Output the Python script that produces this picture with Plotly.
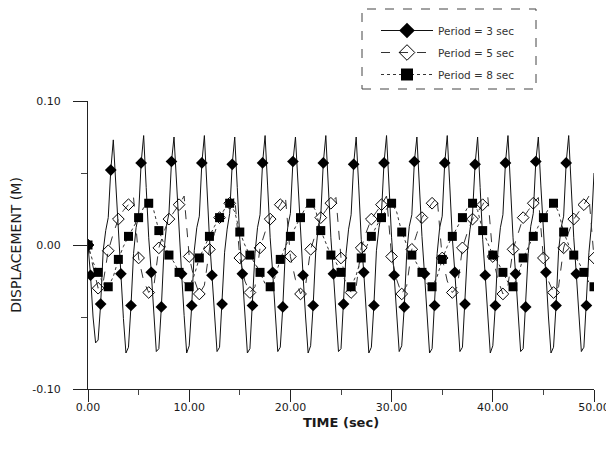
import plotly.graph_objects as go

# ---------------- data ----------------
# Period = 3 sec, sampled every 0.25 s (t = 0 ... 50)
t3 = [i * 0.25 for i in range(201)]
d3 = [
    0.000, -0.021, -0.050, -0.068, -0.066, -0.041, -0.004, 0.010, 0.019, 0.052, 0.073, 0.041,
    0.004, -0.020, -0.051, -0.075, -0.071, -0.042, -0.006, 0.012, 0.021, 0.057, 0.076, 0.040,
    0.005, -0.019, -0.050, -0.074, -0.072, -0.043, -0.005, 0.013, 0.022, 0.058, 0.075, 0.041,
    0.006, -0.020, -0.049, -0.075, -0.070, -0.042, -0.004, 0.012, 0.020, 0.057, 0.076, 0.039,
    0.005, -0.021, -0.051, -0.074, -0.071, -0.041, -0.005, 0.011, 0.022, 0.056, 0.075, 0.040,
    0.004, -0.020, -0.050, -0.075, -0.072, -0.042, -0.006, 0.012, 0.021, 0.057, 0.076, 0.041,
    0.005, -0.019, -0.051, -0.074, -0.071, -0.043, -0.004, 0.013, 0.022, 0.058, 0.075, 0.040,
    0.006, -0.021, -0.050, -0.075, -0.070, -0.042, -0.005, 0.012, 0.020, 0.057, 0.076, 0.039,
    0.005, -0.020, -0.049, -0.074, -0.072, -0.041, -0.006, 0.011, 0.021, 0.056, 0.075, 0.041,
    0.004, -0.019, -0.051, -0.075, -0.071, -0.042, -0.004, 0.012, 0.022, 0.057, 0.076, 0.040,
    0.005, -0.021, -0.050, -0.074, -0.070, -0.043, -0.005, 0.013, 0.021, 0.058, 0.075, 0.039,
    0.006, -0.020, -0.051, -0.075, -0.072, -0.042, -0.006, 0.012, 0.020, 0.057, 0.076, 0.041,
    0.005, -0.019, -0.049, -0.074, -0.071, -0.041, -0.004, 0.011, 0.022, 0.056, 0.075, 0.040,
    0.004, -0.021, -0.050, -0.075, -0.070, -0.042, -0.005, 0.012, 0.021, 0.057, 0.076, 0.039,
    0.005, -0.020, -0.051, -0.074, -0.072, -0.043, -0.006, 0.013, 0.022, 0.058, 0.075, 0.041,
    0.006, -0.019, -0.050, -0.075, -0.071, -0.042, -0.004, 0.012, 0.020, 0.057, 0.076, 0.040,
    0.005, -0.020, -0.050, -0.074, -0.071, -0.042, -0.005, 0.014, 0.050,
]

# Period = 5 sec, sampled every 0.5 s (t = 0 ... 50)
t5 = [i * 0.5 for i in range(101)]
d5 = [
    0.000, -0.016, -0.030, -0.026, -0.004, 0.008, 0.018, 0.024, 0.028, 0.033,
    -0.009, -0.025, -0.033, -0.029, -0.002, 0.009, 0.018, 0.023, 0.028, 0.034,
    -0.008, -0.024, -0.034, -0.028, -0.003, 0.008, 0.019, 0.024, 0.029, 0.033,
    -0.009, -0.025, -0.033, -0.029, -0.002, 0.009, 0.018, 0.023, 0.028, 0.034,
    -0.008, -0.024, -0.034, -0.028, -0.003, 0.008, 0.019, 0.024, 0.029, 0.033,
    -0.009, -0.025, -0.033, -0.029, -0.002, 0.009, 0.018, 0.023, 0.028, 0.034,
    -0.008, -0.024, -0.034, -0.028, -0.003, 0.008, 0.019, 0.024, 0.029, 0.033,
    -0.009, -0.025, -0.033, -0.029, -0.002, 0.009, 0.018, 0.023, 0.028, 0.034,
    -0.008, -0.024, -0.034, -0.028, -0.003, 0.008, 0.019, 0.024, 0.029, 0.033,
    -0.009, -0.025, -0.033, -0.029, -0.002, 0.009, 0.018, 0.023, 0.028, 0.034,
    -0.009,
]

# Period = 8 sec, sampled every 0.5 s (t = 0 ... 50)
t8 = [i * 0.5 for i in range(101)]
d8 = [
    0.000, -0.012, -0.019, -0.027, -0.029, -0.022, -0.010, -0.001,
    0.006, 0.012, 0.019, 0.026, 0.029, 0.024, 0.010, 0.001,
    -0.007, -0.012, -0.019, -0.026, -0.029, -0.021, -0.009, -0.001,
    0.006, 0.013, 0.019, 0.025, 0.029, 0.023, 0.009, 0.000,
    -0.007, -0.013, -0.019, -0.027, -0.029, -0.022, -0.010, -0.001,
    0.006, 0.012, 0.019, 0.026, 0.029, 0.024, 0.010, 0.001,
    -0.007, -0.012, -0.019, -0.026, -0.029, -0.021, -0.009, -0.001,
    0.006, 0.013, 0.019, 0.025, 0.029, 0.023, 0.009, 0.000,
    -0.007, -0.013, -0.019, -0.027, -0.029, -0.022, -0.010, -0.001,
    0.006, 0.012, 0.019, 0.026, 0.029, 0.024, 0.010, 0.001,
    -0.007, -0.012, -0.019, -0.026, -0.029, -0.021, -0.009, -0.001,
    0.006, 0.013, 0.019, 0.025, 0.029, 0.023, 0.009, 0.000,
    -0.007, -0.012, -0.019, -0.026, -0.029,
]

series_names = ["Period = 3 sec", "Period = 5 sec", "Period = 8 sec"]
x_tick_vals = [0, 10, 20, 30, 40, 50]
x_tick_text = ["0.00", "10.00", "20.00", "30.00", "40.00", "50.00"]
y_tick_vals = [-0.10, 0.00, 0.10]
y_tick_text = ["-0.10", "0.00", "0.10"]

# marker subsets (every 1 s)
m3 = [0] + list(range(1, len(t3), 4))
m5 = list(range(0, len(t5), 2))
m8 = list(range(0, len(t8), 2))

FONT = "DejaVu Sans"
INK = "#1a1a1a"

styles = [
    dict(t=t3, d=d3, m=m3, dash="solid", color="#111111", symbol="diamond", size=9,
         mcolor="#000000", mline=0),
    dict(t=t5, d=d5, m=m5, dash="dash", color="#333333", symbol="diamond-open", size=9,
         mcolor="#000000", mline=1),
    dict(t=t8, d=d8, m=m8, dash="dot", color="#333333", symbol="square", size=9,
         mcolor="#000000", mline=0),
]

fig = go.Figure()

for name, s in zip(series_names, styles):
    fig.add_trace(go.Scatter(
        x=s["t"], y=s["d"], mode="lines", showlegend=False,
        line=dict(color=s["color"], width=1, dash=s["dash"]),
    ))
for name, s in zip(series_names, styles):
    fig.add_trace(go.Scatter(
        x=[s["t"][i] for i in s["m"]], y=[s["d"][i] for i in s["m"]],
        mode="markers", showlegend=False,
        marker=dict(symbol=s["symbol"], size=s["size"], color=s["mcolor"],
                    line=dict(width=s["mline"], color="#000000")),
    ))
# legend entries
for name, s in zip(series_names, styles):
    fig.add_trace(go.Scatter(
        x=[None], y=[None], mode="lines+markers", name=name, legendgroup=name,
        line=dict(color=s["color"], width=1, dash=s["dash"]),
        marker=dict(symbol=s["symbol"], size=s["size"] + 3, color=s["mcolor"],
                    line=dict(width=s["mline"], color="#000000")),
    ))

# the page body adds an 8 px offset at the top-left; positions are in page pixels
OFF = 8
W, H = 614 - OFF, 457 - OFF
L, R, T, B = 88 - OFF, 20, 101 - OFF, 68
PW = W - L - R
PH = H - T - B

def px_x(p):
    return (p - OFF - L) / PW

def px_y(p):
    return (H - B - (p - OFF)) / PH

fig.update_layout(
    width=W, height=H,
    margin=dict(l=L, r=R, t=T, b=B, autoexpand=False),
    paper_bgcolor="white", plot_bgcolor="white",
    font=dict(family=FONT, size=11, color=INK),
    showlegend=True,
    legend=dict(
        x=px_x(376), y=px_y(16), xanchor="left", yanchor="top",
        bgcolor="rgba(0,0,0,0)", borderwidth=0,
        font=dict(family=FONT, size=10.5, color="#333333"),
        itemwidth=52, tracegroupgap=3,
    ),
    shapes=[
        dict(type="rect", xref="paper", yref="paper",
             x0=px_x(362), x1=px_x(536), y0=px_y(89), y1=px_y(9),
             line=dict(color="#444444", width=1, dash="dash"),
             fillcolor="rgba(0,0,0,0)"),
    ],
    xaxis=dict(
        range=[0, 50], tickmode="array", tickvals=x_tick_vals, ticktext=x_tick_text,
        showgrid=False, zeroline=False, showline=True, linecolor="#222222", linewidth=1,
        ticks="outside", ticklen=12, tickcolor="#222222", tickwidth=1,
        minor=dict(dtick=5, ticks="outside", ticklen=5, tickcolor="#444444"),
        tickfont=dict(family=FONT, size=11, color=INK),
        ticklabelstandoff=-4,
        title=dict(text="<b>TIME (sec)</b>", font=dict(family=FONT, size=13, color=INK),
                   standoff=4),
    ),
    yaxis=dict(
        range=[-0.1, 0.1], tickmode="array", tickvals=y_tick_vals, ticktext=y_tick_text,
        showgrid=False, zeroline=False, showline=True, linecolor="#222222", linewidth=1,
        ticks="outside", ticklen=14, tickcolor="#222222", tickwidth=1,
        minor=dict(dtick=0.05, ticks="outside", ticklen=6, tickcolor="#444444"),
        tickfont=dict(family=FONT, size=11, color=INK),
        ticklabelstandoff=10,
        title=dict(text="DISPLACEMENT (M)", font=dict(family=FONT, size=14, color=INK),
                   standoff=7),
    ),
)

fig.write_html("out.html")
